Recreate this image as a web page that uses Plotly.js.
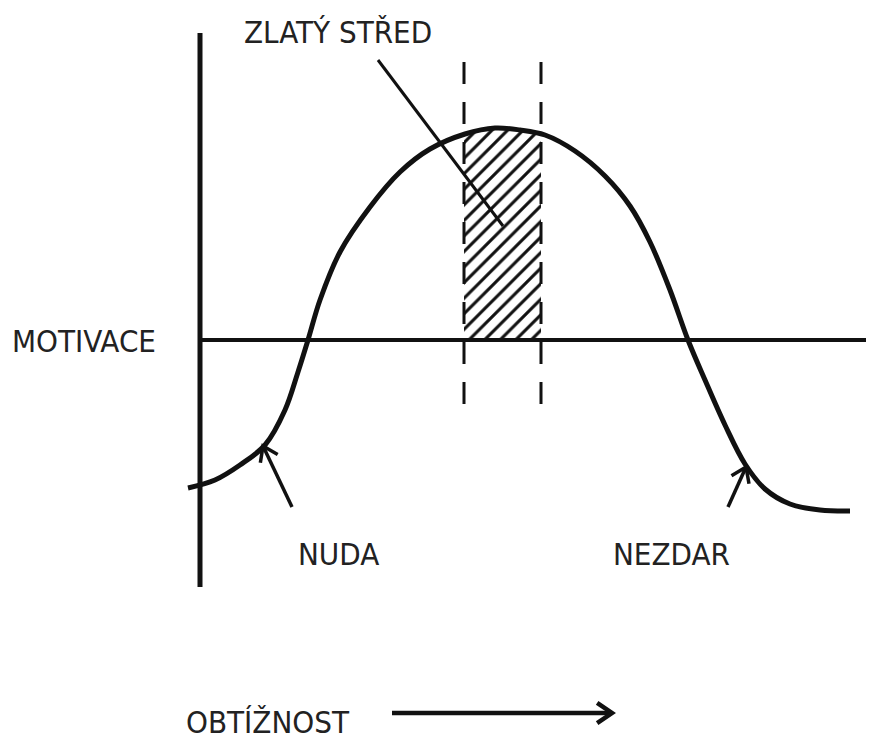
<!DOCTYPE html>
<html>
<head>
<meta charset="utf-8">
<script src="https://cdn.plot.ly/plotly-3.0.1.min.js"></script>
<style>html,body{margin:0;padding:0;background:#fff;}#chart{width:869px;height:740px;}</style>
</head>
<body>
<div id="chart"></div>
<script>
// Motivation curve (x = difficulty, y = motivation; pixel-like units, y grows downward)
const curveX = [188, 215, 240, 265, 285, 298, 308, 320, 340, 370, 400, 430, 465, 495, 520, 545, 575, 605, 630, 650, 670, 688, 705, 725, 745, 765, 790, 820, 850];
const curveY = [488, 480, 465, 445, 410, 372, 340, 300, 252, 207, 172, 149, 134, 128, 130, 135, 151, 176, 206, 242, 290, 340, 380, 425, 464, 489, 504, 510, 511];
// "golden middle" hatched zone
const zoneX = [464, 480, 500, 520, 541, 541, 464, 464];
const zoneY = [133, 130, 128, 130, 135, 340, 340, 133];
const zoneBounds = [464, 541];
const dashTop = 62, dashBottom = 420;
// axes of the diagram
const vAxisX = [200, 200], vAxisY = [33, 587];
const hAxisX = [198, 866], hAxisY = [340, 340];
// pointer line from label
const pointerX = [378, 503], pointerY = [60, 226];
// arrows: [fromX, fromY, toX, toY]
const arrowNuda = [292, 507, 263, 446];
const arrowNezdar = [728, 507, 746, 467];
const arrowDifficulty = [392, 713, 612, 713];
// labels
const labels = ["ZLATÝ STŘED", "MOTIVACE", "NUDA", "NEZDAR", "OBTÍŽNOST"];
const labelX = [338, 84, 338, 671, 268];
const labelY = [32, 341, 554, 554, 722];

const ink = '#111';
const traces = [];
function line(xs, ys, w, dash){
  traces.push({x: xs, y: ys, mode: 'lines', line: {color: ink, width: w, dash: dash || 'solid'}, hoverinfo: 'skip', showlegend: false});
}
// hatched zone
traces.push({x: zoneX, y: zoneY, mode: 'lines', fill: 'toself', line: {width: 0, color: 'rgba(0,0,0,0)'},
  fillcolor: 'rgba(255,255,255,0)',
  fillpattern: {shape: '/', size: 11, solidity: 0.28, fgcolor: ink, bgcolor: 'rgba(255,255,255,0)'},
  hoverinfo: 'skip', showlegend: false});
line(vAxisX, vAxisY, 5);
line(hAxisX, hAxisY, 4);
zoneBounds.forEach(b => line([b, b], [dashTop, dashBottom], 3, '22px,18px'));
traces.push({x: curveX, y: curveY, mode: 'lines', line: {color: ink, width: 5, shape: 'spline', smoothing: 1}, hoverinfo: 'skip', showlegend: false});
line(pointerX, pointerY, 3);
function arrow(a, headLen, w){
  const [x0, y0, x1, y1] = a;
  line([x0, x1], [y0, y1], w);
  const ang = Math.atan2(y1 - y0, x1 - x0);
  const spread = 0.6;
  const hx = [x1 - headLen * Math.cos(ang - spread), x1, x1 - headLen * Math.cos(ang + spread)];
  const hy = [y1 - headLen * Math.sin(ang - spread), y1, y1 - headLen * Math.sin(ang + spread)];
  line(hx, hy, w);
}
arrow(arrowNuda, 17, 3.5);
arrow(arrowNezdar, 17, 3.5);
arrow(arrowDifficulty, 18, 4.5);

const font = {family: '"DejaVu Sans Condensed", "DejaVu Sans", sans-serif', size: 31, color: '#222'};
const annotations = labels.map((t, i) => ({x: labelX[i], y: labelY[i], xref: 'x', yref: 'y', text: t, showarrow: false, font: font, xanchor: 'center', yanchor: 'middle'}));

Plotly.newPlot('chart', traces, {
  width: 869, height: 740,
  margin: {l: 0, r: 0, t: 0, b: 0},
  paper_bgcolor: '#fff', plot_bgcolor: '#fff',
  xaxis: {range: [0, 869], visible: false, fixedrange: true},
  yaxis: {range: [740, 0], visible: false, fixedrange: true},
  annotations: annotations,
  showlegend: false
}, {staticPlot: true});
</script>
</body>
</html>
